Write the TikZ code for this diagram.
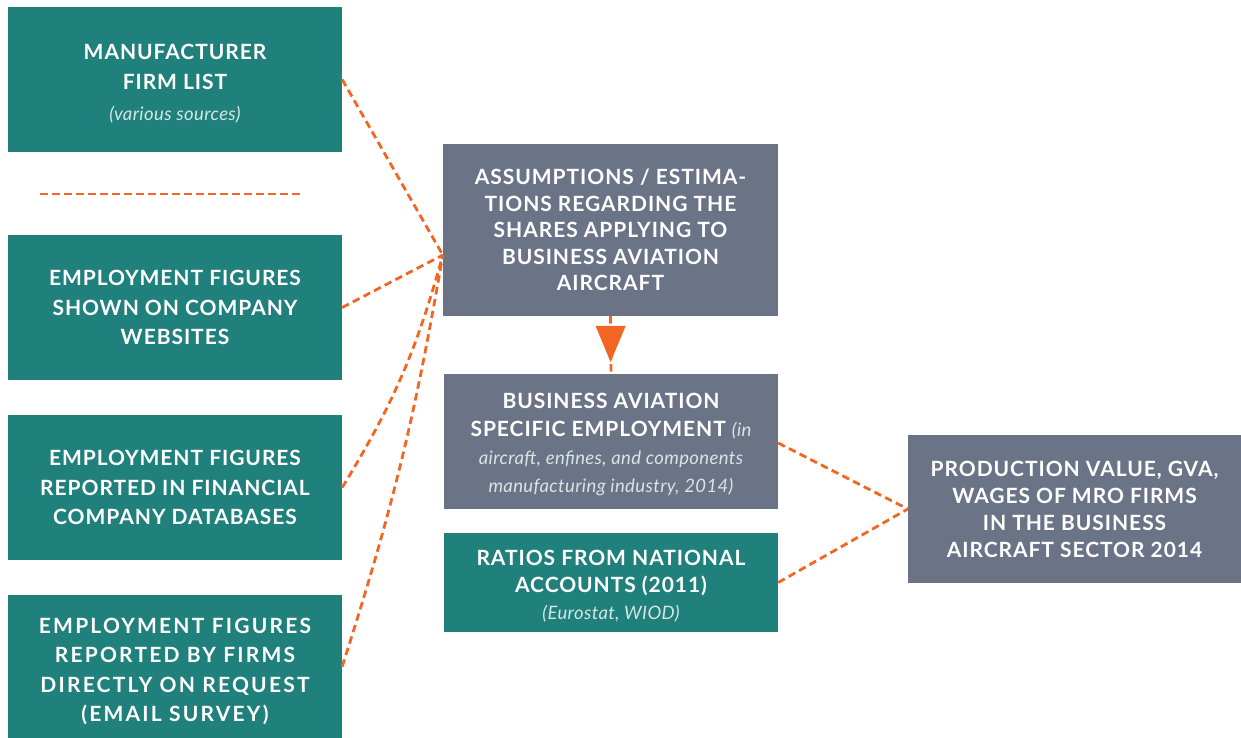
\documentclass[tikz,border=0pt]{standalone}
\usepackage{fontspec}
\setmainfont{Lato}[LetterSpace=4.5]
\newfontfamily\itfont{Lato}[LetterSpace=2.0]
\usetikzlibrary{calc}
\definecolor{tealbox}{HTML}{1F807C}
\definecolor{graybox}{HTML}{6B7386}
\definecolor{orng}{HTML}{F26522}
\definecolor{subtxt}{HTML}{D5E6E5}
\tikzset{
  box/.style={fill=#1, text=white, inner sep=0pt, align=center, font=\bfseries\fontsize{21}{29.5}\selectfont},
  conn/.style={draw=orng, line width=2.8pt, dash pattern=on 7.5pt off 4.5pt},
}
\newcommand{\sub}[1]{{\itfont\mdseries\itshape\fontsize{18.5}{26}\selectfont\color{subtxt}#1}}
\newcommand{\lift}[1]{\rule{0pt}{#1}}
\begin{document}
\begin{tikzpicture}[x=1pt,y=-1pt]
\useasboundingbox (0,0) rectangle (1241,738);
\node[box=tealbox, minimum width=334pt, minimum height=145pt, font=\bfseries\fontsize{21}{30.5}\selectfont] (m1) at (175,79.5) {\lift{23pt}MANUFACTURER\\FIRM LIST\\\sub{(various sources)}};
\node[box=tealbox, minimum width=334pt, minimum height=145pt] (m2) at (175,307.5) {EMPLOYMENT FIGURES\\SHOWN ON COMPANY\\WEBSITES};
\node[box=tealbox, minimum width=334pt, minimum height=145pt] (m3) at (175,487.5) {EMPLOYMENT FIGURES\\REPORTED IN FINANCIAL\\COMPANY DATABASES};
\node[box=tealbox, minimum width=334pt, minimum height=143pt, font=\bfseries\fontsize{21}{29.5}\selectfont\addfontfeatures{LetterSpace=10.5}] (m4) at (175,666.5) {\lift{25pt}EMPLOYMENT FIGURES\\REPORTED BY FIRMS\\DIRECTLY ON REQUEST\\(EMAIL SURVEY)};
\node[box=graybox, minimum width=335pt, minimum height=172pt, font=\bfseries\fontsize{21}{26.5}\selectfont] (A) at (610.5,230) {ASSUMPTIONS / ESTIMA-\\TIONS REGARDING THE\\SHARES APPLYING TO\\BUSINESS AVIATION\\AIRCRAFT};
\node[box=graybox, minimum width=334pt, minimum height=135pt, font=\bfseries\fontsize{21}{28}\selectfont] (B) at (611,441.5) {\lift{22pt}BUSINESS AVIATION\\SPECIFIC EMPLOYMENT \sub{(in}\\\sub{aircraft, enfines, and components}\\\sub{manufacturing industry, 2014)}};
\node[box=tealbox, minimum width=334pt, minimum height=99pt, font=\bfseries\fontsize{21}{27}\selectfont] (C) at (611,582.5) {\lift{22pt}RATIOS FROM NATIONAL\\ACCOUNTS (2011)\\\sub{(Eurostat, WIOD)}};
\node[box=graybox, minimum width=333pt, minimum height=148pt, font=\bfseries\fontsize{21}{27}\selectfont] (D) at (1074.5,509) {PRODUCTION VALUE, GVA,\\WAGES OF MRO FIRMS\\IN THE BUSINESS\\AIRCRAFT SECTOR 2014};
% separator
\coordinate (s1) at (40,194);
\coordinate (s2) at (301,194);
\draw[conn] (s1) -- (s2);
% convergence point on A
\coordinate (cv) at ($(A.west)+(0,25)$);
\draw[conn] (m1.east) -- (cv);
\draw[conn] (m2.east) -- (cv);
\draw[conn] (m3.east) to[bend right=8] (cv);
\draw[conn] (m4.east) to[bend right=4] (cv);
% A to B with arrow
\draw[conn] (A.south) -- (B.north) coordinate[pos=0.17] (t);
\fill[orng] ($(t)+(-15,0)$) -- ($(t)+(15,0)$) -- ($(t)+(0,36)$) -- cycle;
% B, C to D
\coordinate (dv) at (D.west);
\draw[conn] ($(B.east)+(0,1.5)$) -- (dv);
\draw[conn] (C.east) -- (dv);
\end{tikzpicture}
\end{document}
